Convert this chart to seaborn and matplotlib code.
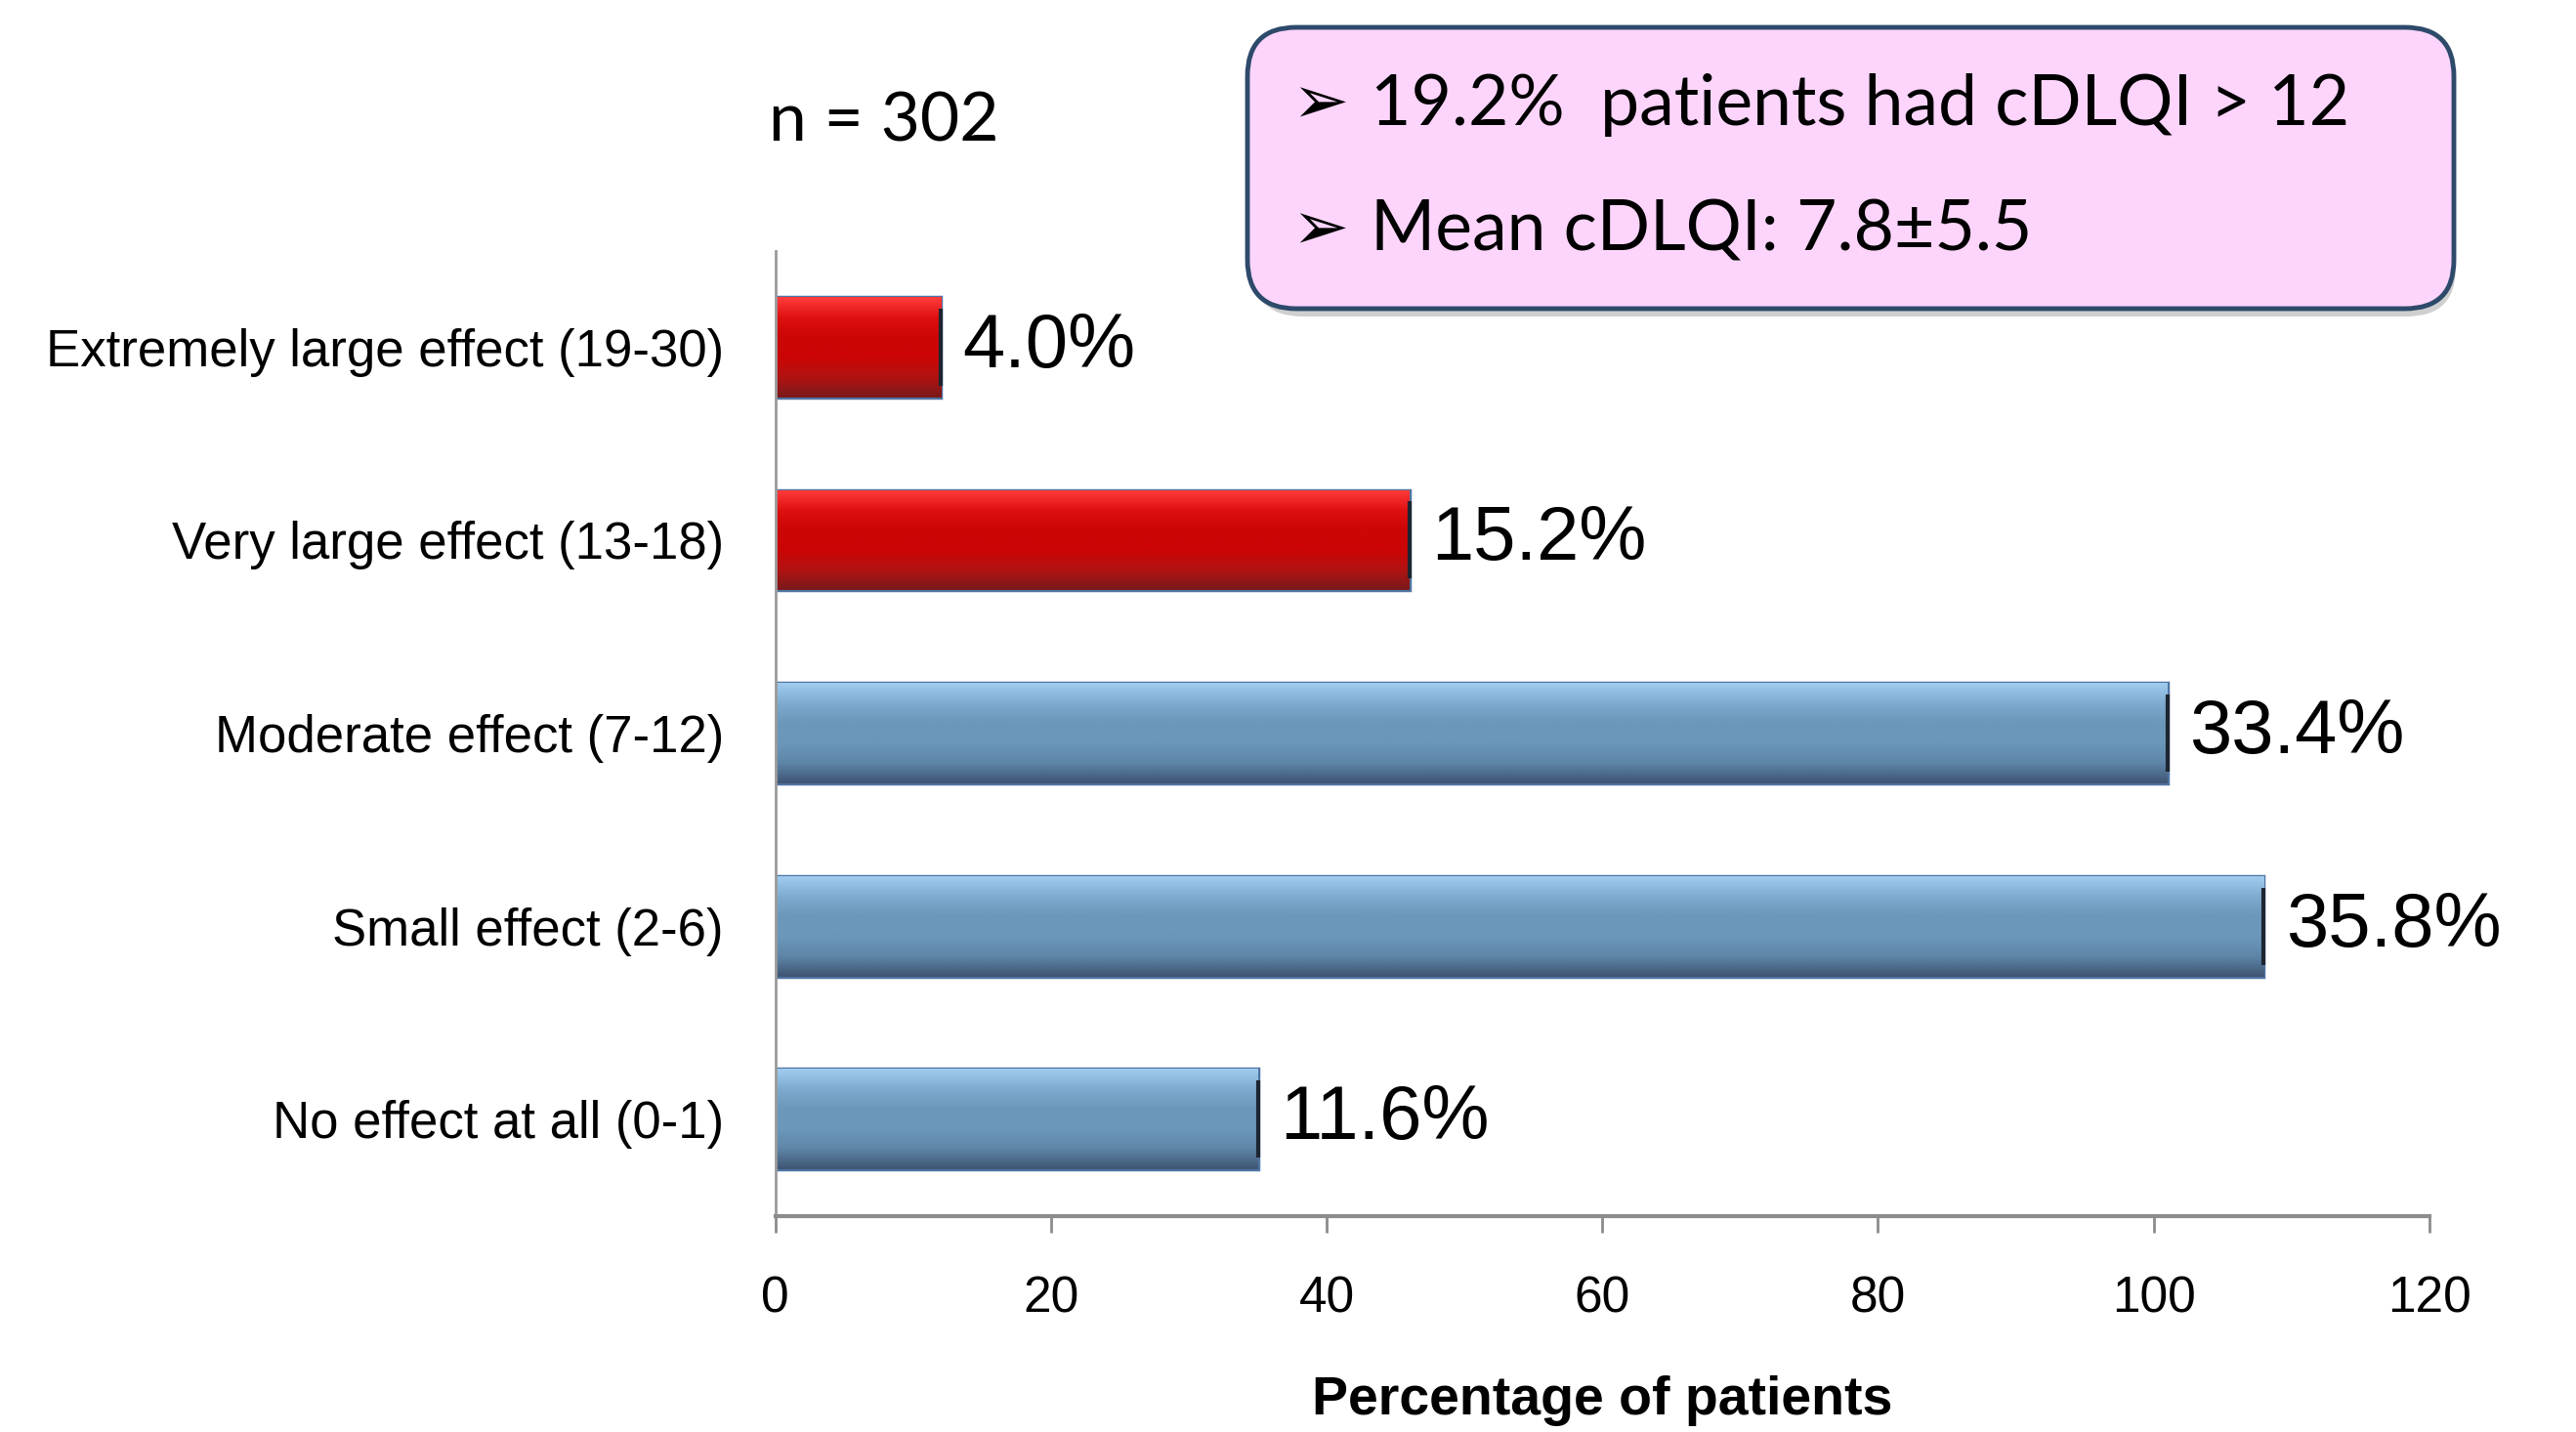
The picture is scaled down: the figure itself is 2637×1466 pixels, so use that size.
import numpy as np
import seaborn as sns
import matplotlib.pyplot as plt
from matplotlib.patches import FancyBboxPatch
from matplotlib.colors import LinearSegmentedColormap

categories = [
    "Extremely large effect (19-30)",
    "Very large effect (13-18)",
    "Moderate effect (7-12)",
    "Small effect (2-6)",
    "No effect at all (0-1)",
]
counts = [12, 46, 101, 108, 35]
pct_labels = ["4.0%", "15.2%", "33.4%", "35.8%", "11.6%"]
severe = [True, True, False, False, False]

box_lines = ["19.2%  patients had cDLQI > 12", "Mean cDLQI: 7.8\u00b15.5"]
n_text = "n = 302"

red = '#cc0505'
blue = '#6b97ba'

sns.set_style('white')
plt.rcParams['font.family'] = ['Liberation Sans', 'DejaVu Sans']
plt.rcParams['text.color'] = 'black'
plt.rcParams['xtick.labelcolor'] = 'black'
plt.rcParams['ytick.labelcolor'] = 'black'
plt.rcParams['axes.labelcolor'] = 'black'

fig = plt.figure(figsize=(26.37, 14.66), dpi=100)
ax = fig.add_axes([0.301, 0.151, 0.642, 0.674])

pal = {c: (red if s else blue) for c, s in zip(categories, severe)}
sns.barplot(x=counts, y=categories, hue=categories, palette=pal, orient='h',
            width=0.52, legend=False, edgecolor='#4f74a3', linewidth=2.5,
            saturation=1, ax=ax)

# shiny bevel look: vertical gradient clipped to each bar
red_cm = LinearSegmentedColormap.from_list('r', ['#ff3b3b', '#e01010', '#cc0505', '#cc0505', '#b31212', '#7a1a1a'])
blue_cm = LinearSegmentedColormap.from_list('b', ['#a0cbef', '#7eaad0', '#6b97ba', '#6b97ba', '#5e86a8', '#3f5674'])
grad = np.linspace(0, 1, 64).reshape(-1, 1)
for p, s in zip(ax.patches, severe):
    x0, y0, w, h = p.get_x(), p.get_y(), p.get_width(), p.get_height()
    im = ax.imshow(grad, cmap=red_cm if s else blue_cm, aspect='auto',
                   extent=(x0, x0 + w, y0 + h, y0), zorder=p.get_zorder() + 0.1,
                   interpolation='bicubic')
    im.set_clip_path(p)
    ax.plot([x0 + w, x0 + w], [y0 + 0.06, y0 + h - 0.06], color='#1c2530',
            lw=3, zorder=p.get_zorder() + 0.2, solid_capstyle='butt')

for p, lab in zip(ax.patches, pct_labels):
    ax.annotate(lab, (p.get_x() + p.get_width(), p.get_y() + p.get_height() / 2),
                xytext=(16, 0), textcoords='offset points', va='center', ha='left',
                fontsize=56, color='black')

ax.set_xlim(0, 120)
ax.set_xticks(range(0, 121, 20))
ax.set_ylim(4.5, -0.5)
ax.set_xlabel('Percentage of patients', fontsize=40, fontweight='bold', labelpad=38)
ax.set_ylabel('')
ax.tick_params(axis='x', labelsize=37, length=12, width=2, color='#8c8c8c', pad=32,
               bottom=True)
ax.tick_params(axis='y', labelsize=38, length=0, pad=38)
for side in ['top', 'right']:
    ax.spines[side].set_visible(False)
ax.spines['left'].set_color('#9a9a9a')
ax.spines['left'].set_linewidth(2)
ax.spines['bottom'].set_color('#8c8c8c')
ax.spines['bottom'].set_linewidth(3)

fig.text(0.2985, 0.915, n_text, fontsize=50, family=['Lato', 'DejaVu Sans'],
         va='center', ha='left')

# summary box (inches, so the rounded corners stay round)
shadow = FancyBboxPatch((12.83, 11.42), 12.31, 2.83,
                        boxstyle='round,pad=0,rounding_size=0.5',
                        transform=fig.dpi_scale_trans, facecolor='#b0b0b0',
                        edgecolor='none', alpha=0.6, zorder=1)
box = FancyBboxPatch((12.77, 11.50), 12.35, 2.88,
                     boxstyle='round,pad=0,rounding_size=0.5',
                     transform=fig.dpi_scale_trans, facecolor='#fdd5fc',
                     edgecolor='#2e4a6b', linewidth=3.5, zorder=2)
fig.patches.extend([shadow, box])

for yy, line in zip([0.927, 0.839], box_lines):
    fig.text(0.5015, yy, '\u27a2', fontsize=50, family=['DejaVu Sans'],
             va='center', ha='left', zorder=3)
    fig.text(0.532, yy, line, fontsize=51.5, family=['Lato', 'DejaVu Sans'],
             va='center', ha='left', zorder=3)

fig.savefig('out.png', dpi=100)
